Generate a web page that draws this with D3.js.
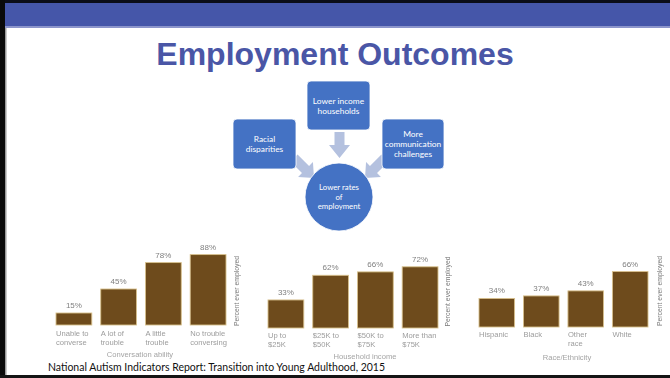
<!DOCTYPE html>
<html>
<head>
<meta charset="utf-8">
<script src="https://cdn.jsdelivr.net/npm/d3@7"></script>
<style>
  html, body { margin: 0; padding: 0; background: #fff; }
  svg { display: block; }
</style>
</head>
<body>
<svg id="slide" width="670" height="378"></svg>
<script>
// ---- Data ----
const conversationCategories = [["Unable to", "converse"], ["A lot of", "trouble"], ["A little", "trouble"], ["No trouble", "conversing"]];
const conversationValues = [15, 45, 78, 88];

const incomeCategories = [["Up to", "$25K"], ["$25K to", "$50K"], ["$50K to", "$75K"], ["More than", "$75K"]];
const incomeValues = [33, 62, 66, 72];

const raceCategories = [["Hispanic"], ["Black"], ["Other", "race"], ["White"]];
const raceValues = [34, 37, 43, 66];

const axisTitles = ["Conversation ability", "Household income", "Race/Ethnicity"];
const valueAxisLabel = "Percent ever employed";

const slideTitle = "Employment Outcomes";
const factorLabels = [["Racial", "disparities"], ["Lower income", "households"], ["More", "communication", "challenges"]];
const outcomeLabel = ["Lower rates", "of", "employment"];
const sourceNote = "National Autism Indicators Report: Transition into Young Adulthood, 2015";

// ---- Slide frame ----
const svg = d3.select("#slide");
svg.append("rect").attr("x", 0).attr("y", 0).attr("width", 670).attr("height", 378).attr("fill", "#fff");
svg.append("rect").attr("x", 0).attr("y", 0).attr("width", 670).attr("height", 28).attr("fill", "#8c95cb");
svg.append("rect").attr("x", 0).attr("y", 0).attr("width", 670).attr("height", 26).attr("fill", "#4556a9");
svg.append("rect").attr("x", 0).attr("y", 0).attr("width", 670).attr("height", 3).attr("fill", "#0b0d18");
svg.append("rect").attr("x", 0).attr("y", 0).attr("width", 5).attr("height", 378).attr("fill", "#0a0a0a");
svg.append("rect").attr("x", 5).attr("y", 28).attr("width", 1.5).attr("height", 347).attr("fill", "#9a9a9a");
svg.append("rect").attr("x", 0).attr("y", 375).attr("width", 670).attr("height", 3).attr("fill", "#141414");

// Title
svg.append("text")
  .attr("x", 335).attr("y", 65)
  .attr("text-anchor", "middle")
  .attr("font-family", "Liberation Sans, Arial, sans-serif")
  .attr("font-weight", "bold")
  .attr("font-size", 32)
  .attr("fill", "#4a56a6")
  .text(slideTitle);

// ---- Diagram ----
const boxFill = "#4472c4";
const arrowFill = "#b4c1df";
const dg = svg.append("g");

function arrow(x1, y1, x2, y2, shaft, head, headLen) {
  const dx = x2 - x1, dy = y2 - y1, L = Math.hypot(dx, dy);
  const ux = dx / L, uy = dy / L, nx = -uy, ny = ux;
  const bx = x2 - ux * headLen, by = y2 - uy * headLen;
  const pts = [
    [x1 + nx * shaft / 2, y1 + ny * shaft / 2],
    [bx + nx * shaft / 2, by + ny * shaft / 2],
    [bx + nx * head / 2, by + ny * head / 2],
    [x2, y2],
    [bx - nx * head / 2, by - ny * head / 2],
    [bx - nx * shaft / 2, by - ny * shaft / 2],
    [x1 - nx * shaft / 2, y1 - ny * shaft / 2]
  ];
  dg.append("polygon").attr("points", pts.map(p => p.join(",")).join(" ")).attr("fill", arrowFill);
}
arrow(339.5, 132, 339.5, 158, 10, 21, 13);
arrow(294, 158, 314, 178, 10, 21, 12);
arrow(385, 158, 365, 178, 10, 21, 12);

const boxes = [
  { x: 233, y: 119, w: 63, h: 50, lines: factorLabels[0] },
  { x: 307, y: 81, w: 63, h: 49, lines: factorLabels[1] },
  { x: 382, y: 119, w: 62, h: 50, lines: factorLabels[2] }
];
boxes.forEach(b => {
  dg.append("rect").attr("x", b.x).attr("y", b.y).attr("width", b.w).attr("height", b.h)
    .attr("rx", 4).attr("fill", boxFill).attr("stroke", "#fff").attr("stroke-width", 0.8);
  const lh = 10;
  const cy = b.y + b.h / 2 - (b.lines.length - 1) * lh / 2 + 3;
  b.lines.forEach((t, i) => {
    dg.append("text").attr("x", b.x + b.w / 2).attr("y", cy + i * lh)
      .attr("text-anchor", "middle").attr("font-family", "Lato, 'Open Sans', sans-serif")
      .attr("font-size", 8.4).attr("fill", "#fff").text(t);
  });
});
dg.append("circle").attr("cx", 339).attr("cy", 197).attr("r", 34)
  .attr("fill", boxFill).attr("stroke", "#fff").attr("stroke-width", 0.8);
outcomeLabel.forEach((t, i) => {
  dg.append("text").attr("x", 339).attr("y", 190 + i * 9.5)
    .attr("text-anchor", "middle").attr("font-family", "Lato, 'Open Sans', sans-serif")
    .attr("font-size", 7.8).attr("fill", "#fff").text(t);
});

// ---- Bar charts ----
const defs = svg.append("defs");
defs.append("filter").attr("id", "soft").append("feGaussianBlur").attr("stdDeviation", 0.45);

const panels = [
  { cats: conversationCategories, vals: conversationValues, title: axisTitles[0],
    x0: 56, x1: 226, base: 325, span: 80, titleX: 140, titleY: 357, vx: 239, catY: 336 },
  { cats: incomeCategories, vals: incomeValues, title: axisTitles[1],
    x0: 268, x1: 438, base: 328, span: 85, titleX: 365, titleY: 359, vx: 450, catY: 338 },
  { cats: raceCategories, vals: raceValues, title: axisTitles[2],
    x0: 479, x1: 648, base: 327, span: 84, titleX: 567, titleY: 360, vx: 662, catY: 337 }
];

const chartFont = "Liberation Sans, Arial, sans-serif";
panels.forEach(p => {
  const g = svg.append("g").attr("filter", "url(#soft)");
  const idx = d3.range(p.vals.length);
  const x = d3.scaleBand().domain(idx).range([p.x0, p.x1]).paddingInner(0.2).paddingOuter(0);
  const y = d3.scaleLinear().domain([0, 100]).range([p.base, p.base - p.span]);

  g.selectAll("rect.bar").data(idx).join("rect")
    .attr("class", "bar")
    .attr("x", i => x(i)).attr("width", x.bandwidth())
    .attr("y", i => y(p.vals[i])).attr("height", i => y(0) - y(p.vals[i]))
    .attr("fill", "#6e4c1a").attr("stroke", "#d8c08e").attr("stroke-width", 0.9);

  g.selectAll("text.val").data(idx).join("text")
    .attr("class", "val")
    .attr("x", i => x(i) + x.bandwidth() / 2).attr("y", i => y(p.vals[i]) - 5)
    .attr("text-anchor", "middle").attr("font-family", chartFont)
    .attr("font-size", 8).attr("fill", "#808080")
    .text(i => p.vals[i] + "%");

  idx.forEach(i => {
    p.cats[i].forEach((line, j) => {
      g.append("text").attr("x", x(i)).attr("y", p.catY + j * 9)
        .attr("font-family", chartFont).attr("font-size", 7.6).attr("fill", "#9c9c9c")
        .text(line);
    });
  });

  g.append("text").attr("x", p.titleX).attr("y", p.titleY)
    .attr("text-anchor", "middle").attr("font-family", chartFont)
    .attr("font-size", 7.6).attr("fill", "#a4a4a4").text(p.title);

  g.append("text")
    .attr("transform", `translate(${p.vx},${p.base - p.span / 2 + 6}) rotate(-90)`)
    .attr("text-anchor", "middle").attr("font-family", chartFont)
    .attr("font-size", 6.8).attr("fill", "#7a7a7a").text(valueAxisLabel);
});

// Source note
svg.append("text").attr("x", 48).attr("y", 371)
  .attr("font-family", "Lato, 'Open Sans', sans-serif").attr("font-size", 10.5)
  .attr("fill", "#111").attr("textLength", 337).attr("lengthAdjust", "spacingAndGlyphs")
  .text(sourceNote);
</script>
</body>
</html>
